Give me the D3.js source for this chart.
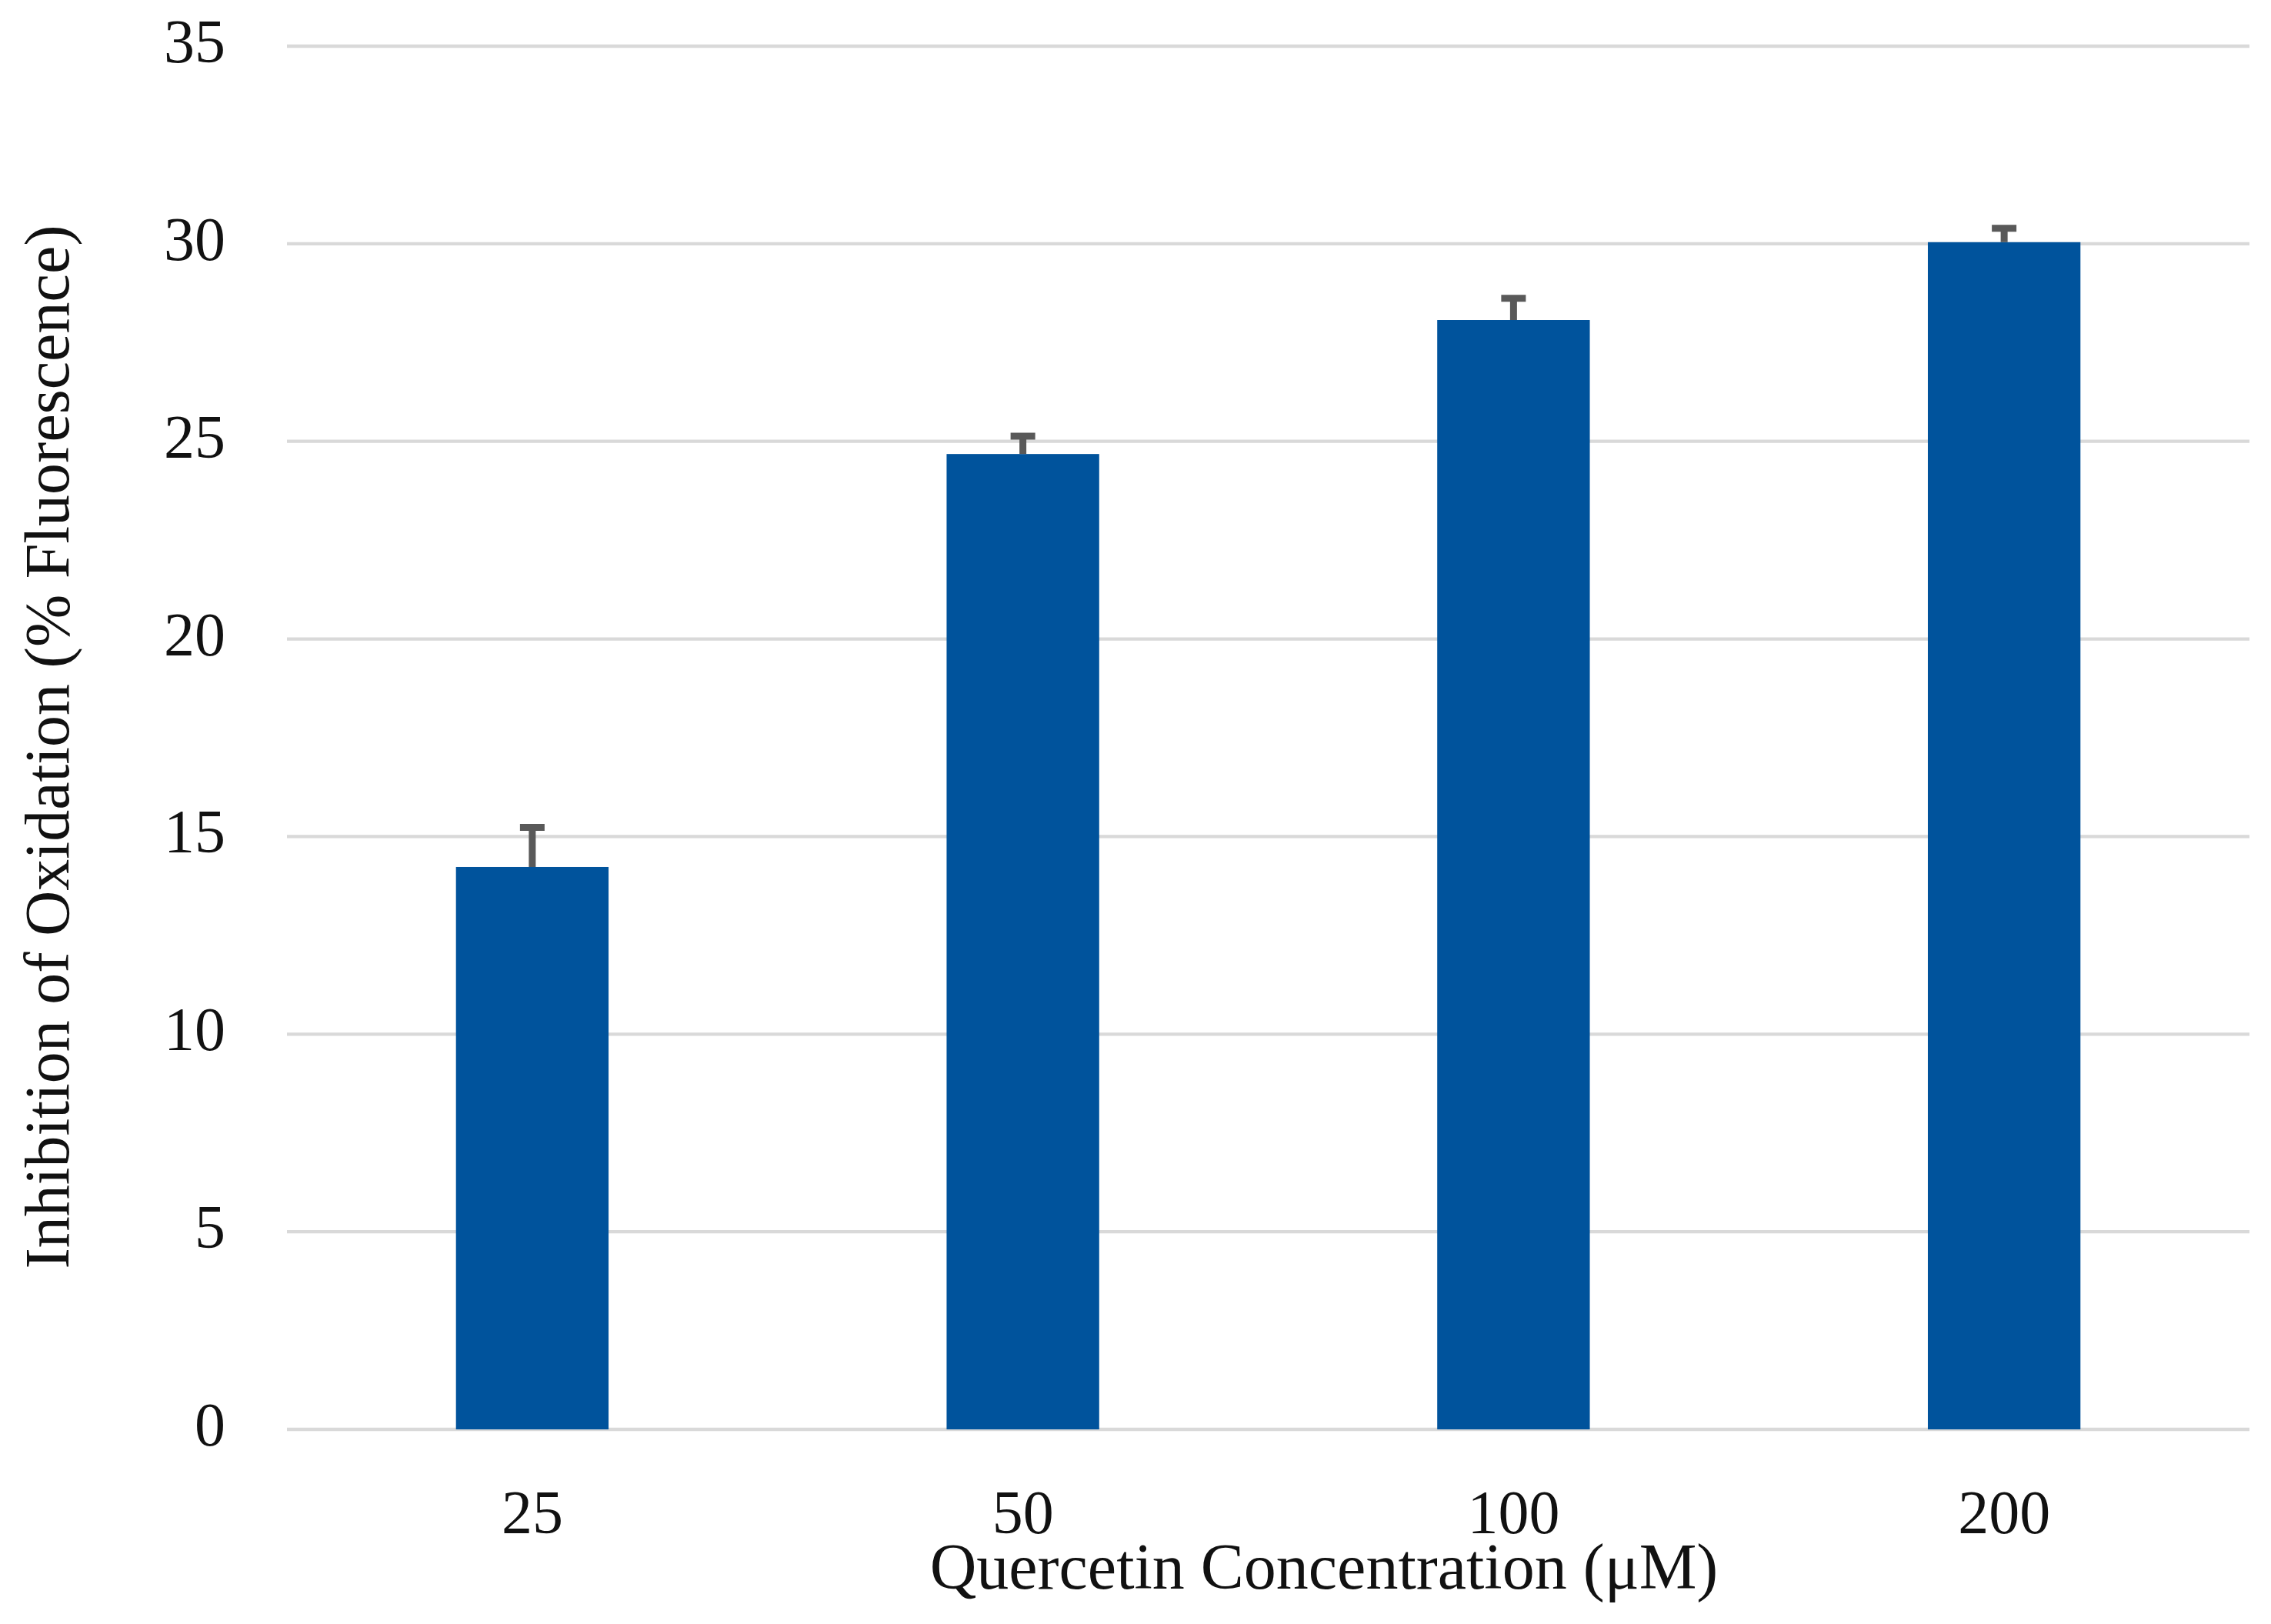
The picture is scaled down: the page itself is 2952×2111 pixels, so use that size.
<!DOCTYPE html>
<html>
<head>
<meta charset="utf-8">
<script src="https://cdn.jsdelivr.net/npm/d3@7"></script>
<style>
  html, body { margin: 0; padding: 0; background: #fff; }
  svg { display: block; }
</style>
</head>
<body>
<div id="chart"></div>
<script>
// ---- data ----
const categories = ["25", "50", "100", "200"];
const values = [14.23, 24.68, 28.07, 30.04];
const errors = [1.0, 0.45, 0.55, 0.35];
const yTicks = [0, 5, 10, 15, 20, 25, 30, 35];
const xTitle = "Quercetin Concentration (μM)";
const yTitle = "Inhibition of Oxidation (% Fluorescence)";

// ---- layout ----
const W = 2952, H = 2111;
const plot = { left: 373, right: 2924, top: 60, bottom: 1858 };
const font = "'Liberation Serif', 'Times New Roman', serif";

const svg = d3.select("#chart").append("svg")
  .attr("width", W).attr("height", H);

const x = d3.scaleBand()
  .domain(categories)
  .range([plot.left, plot.right])
  .paddingInner(0.689)
  .paddingOuter(0.3445);

const y = d3.scaleLinear()
  .domain([0, 35])
  .range([plot.bottom, plot.top]);

// gridlines
svg.append("g")
  .selectAll("line")
  .data(yTicks)
  .join("line")
  .attr("x1", plot.left).attr("x2", plot.right)
  .attr("y1", d => y(d)).attr("y2", d => y(d))
  .attr("stroke", "#d9d9d9").attr("stroke-width", 4.3);

// y tick labels
svg.append("g")
  .selectAll("text")
  .data(yTicks)
  .join("text")
  .attr("x", 293)
  .attr("y", d => y(d) + 21)
  .attr("text-anchor", "end")
  .attr("font-family", font)
  .attr("font-size", 80)
  .attr("fill", "#111")
  .text(d => d);

// bars
const data = categories.map((c, i) => ({ c, v: values[i], e: errors[i] }));
svg.append("g")
  .selectAll("rect")
  .data(data)
  .join("rect")
  .attr("x", d => x(d.c))
  .attr("width", x.bandwidth())
  .attr("y", d => y(d.v))
  .attr("height", d => y(0) - y(d.v))
  .attr("fill", "#00539C");

// error bars (plus only)
const eb = svg.append("g").attr("stroke", "#595959").attr("stroke-width", 9);
eb.selectAll("line.stem")
  .data(data)
  .join("line")
  .attr("class", "stem")
  .attr("x1", d => x(d.c) + x.bandwidth() / 2)
  .attr("x2", d => x(d.c) + x.bandwidth() / 2)
  .attr("y1", d => y(d.v))
  .attr("y2", d => y(d.v + d.e));
eb.selectAll("line.cap")
  .data(data)
  .join("line")
  .attr("class", "cap")
  .attr("x1", d => x(d.c) + x.bandwidth() / 2 - 16)
  .attr("x2", d => x(d.c) + x.bandwidth() / 2 + 16)
  .attr("y1", d => y(d.v + d.e))
  .attr("y2", d => y(d.v + d.e));

// x tick labels
svg.append("g")
  .selectAll("text")
  .data(categories)
  .join("text")
  .attr("x", d => x(d) + x.bandwidth() / 2)
  .attr("y", 1993)
  .attr("text-anchor", "middle")
  .attr("font-family", font)
  .attr("font-size", 80)
  .attr("fill", "#111")
  .text(d => d);

// x axis title
svg.append("text")
  .attr("x", 1721)
  .attr("y", 2065)
  .attr("text-anchor", "middle")
  .attr("font-family", font)
  .attr("font-size", 84)
  .attr("fill", "#111")
  .text(xTitle);

// y axis title
svg.append("text")
  .attr("transform", "translate(89,971) rotate(-90)")
  .attr("text-anchor", "middle")
  .attr("font-family", font)
  .attr("font-size", 82)
  .attr("fill", "#111")
  .text(yTitle);
</script>
</body>
</html>
